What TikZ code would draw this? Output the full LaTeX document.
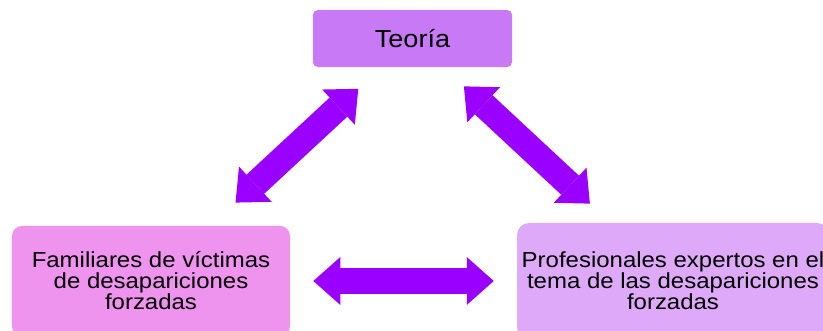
\documentclass[tikz,border=0pt]{standalone}
\usepackage{fontspec}
\setmainfont{Liberation Sans}[FakeStretch=1.1]
\usetikzlibrary{arrows.meta, positioning}
\definecolor{theoryfill}{HTML}{C879F6}
\definecolor{familyfill}{HTML}{EE93EE}
\definecolor{expertfill}{HTML}{DDA9F8}
\definecolor{arrowviolet}{HTML}{9900FF}
\tikzstyle{theory_box} = [rectangle, rounded corners=0.12cm, text centered, fill=theoryfill, minimum width=4.975cm, minimum height=1.425cm, font=\fontsize{17.5}{20}\selectfont]
\tikzstyle{group_box} = [rectangle, rounded corners=0.25cm, align=center, font=\fontsize{15.5}{14.9}\selectfont]
\tikzstyle{relation} = [arrowviolet, line width=0.65cm, {Triangle[width=1.2cm, length=0.675cm, line width=0pt]}-{Triangle[width=1.2cm, length=0.675cm, line width=0pt]}]

\begin{document}
\begin{tikzpicture}[x=0.025cm, y=-0.025cm]

    \clip (0, 0) rectangle (823, 330);

    \node (teoria) [theory_box] at (412.5, 38.5) {Teoría};

    \node (familiares) [group_box, fill=familyfill, minimum width=6.95cm, minimum height=2.75cm] at (151, 281)
        {Familiares de víctimas\\de desapariciones\\forzadas};
    \node (profesionales) [group_box, fill=expertfill, minimum width=7.75cm, minimum height=2.9cm, rounded corners=0.3cm] at (673, 281)
        {Profesionales expertos en el\\tema de las desapariciones\\forzadas};

    \draw [relation, shorten <=0.85cm, shorten >=0.79cm] (familiares) -- (teoria);
    \draw [relation, shorten <=0.7cm, shorten >=0.7cm] (teoria) -- (profesionales);
    \draw [relation, shorten <=0.575cm, shorten >=0.575cm] (familiares) -- (profesionales);

\end{tikzpicture}
\end{document}
